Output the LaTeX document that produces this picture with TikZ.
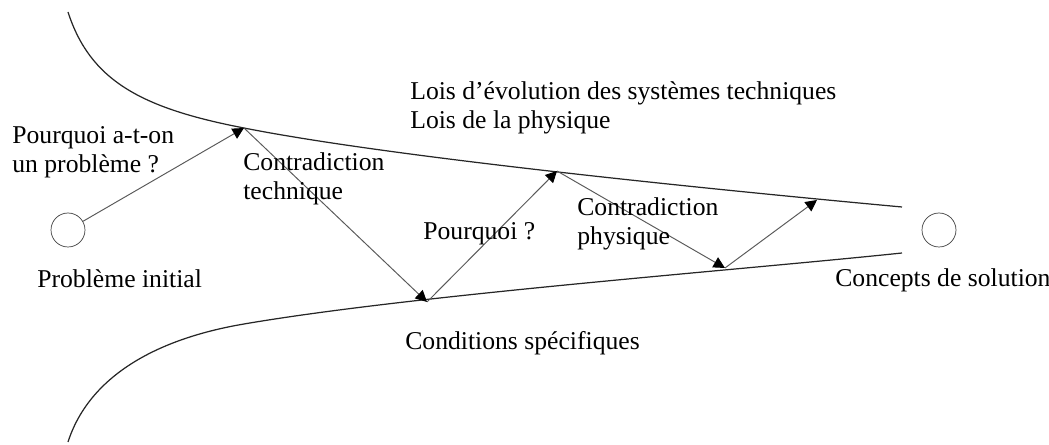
\documentclass[tikz,border=0pt]{standalone}
\usepackage{fontspec}
\setmainfont{Liberation Serif}
\usetikzlibrary{arrows.meta}

\begin{document}
\begin{tikzpicture}[x=0.02cm, y=-0.02cm]
	\tikzset{lbl/.style={anchor=base west, inner sep=0pt, align=left, font=\fontsize{14.6}{16.6}\selectfont}}
	\tikzset{etat/.style={circle, draw=black!75, inner sep=0pt, minimum size=0.68cm}}
	\tikzset{pas/.style={draw=black!65, line width=0.55pt, -{Triangle[length=6.5pt, width=6.5pt, color=black]}}}
	\tikzset{bord/.style={draw=black!85, line width=0.7pt}}

	\useasboundingbox (0,0) rectangle (1049,445);

	    \node[etat] (init) at (68,230) {};
	    \node[etat] (sol) at (939,230) {};

	    \coordinate (p1) at (244,128);
	    \coordinate (v1) at (427,302);
	    \coordinate (p2) at (557,171);
	    \coordinate (v2) at (725,268);
	    \coordinate (p3) at (817,200);

		% the two limits of the funnel
		\draw[bord] (68,12) .. controls (90,80) and (140,108) .. (p1)
			.. controls (400,159) and (750,193) .. (902,207);
		\draw[bord] (68,442) .. controls (88,380) and (150,340) .. (244,324)
			.. controls (413,295) and (740,270) .. (902,253);

	    \draw[pas] (init) -- (p1);
	    \draw[pas] (p1) -- (v1);
	    \draw[pas] (v1) -- (p2);
	    \draw[pas] (p2) -- (v2);
	    \draw[pas] (v2) -- (p3);

		% multi-line labels sit on the baseline of their last line
	    \node[lbl] (why) at (12,173) {Pourquoi a-t-on\\un problème ?};
	    \node[lbl] (ctech) at (243,200) {Contradiction\\technique};
	    \node[lbl] (lois) at (410,129) {Lois d’évolution des systèmes techniques\\Lois de la physique};
	    \node[lbl] (whyb) at (423,240) {Pourquoi ?};
	    \node[lbl] (cphys) at (577,245) {Contradiction\\physique};
	    \node[lbl] (cond) at (405,350) {Conditions spécifiques};
	    \node[lbl] (pinit) at (37,288) {Problème initial};
	    \node[lbl] (csol) at (835,287) {Concepts de solution};

\end{tikzpicture}
\end{document}
